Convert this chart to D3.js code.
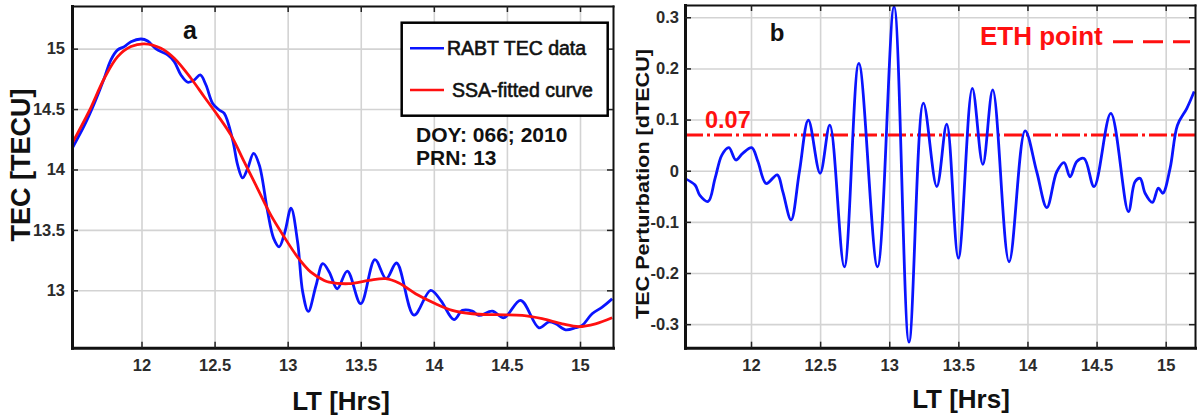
<!DOCTYPE html>
<html><head><meta charset="utf-8">
<script src="https://cdn.jsdelivr.net/npm/d3@7"></script>
<style>
html,body{margin:0;padding:0;background:#fff;}
svg{display:block;font-family:"Liberation Sans",Arial,Helvetica,sans-serif;}
</style></head><body>
<svg id="chart" width="1197" height="420"></svg>
<script>
// Panel a: observed RABT TEC (PRN 13) and its SSA-fitted trend
const ltObs = [11.525, 11.61, 11.677, 11.745, 11.79, 11.837, 11.882, 11.928, 11.997, 12.042, 12.099, 12.179, 12.224, 12.27, 12.316, 12.361, 12.402, 12.441, 12.487, 12.532, 12.566, 12.624, 12.658, 12.692, 12.726, 12.767, 12.806, 12.863, 12.904, 12.942, 12.981, 13.023, 13.068, 13.103, 13.141, 13.194, 13.24, 13.285, 13.339, 13.408, 13.5, 13.597, 13.674, 13.745, 13.864, 13.978, 14.047, 14.138, 14.195, 14.263, 14.308, 14.4, 14.48, 14.594, 14.719, 14.787, 14.833, 14.901, 14.97, 15.015, 15.083, 15.152, 15.22];
const tecObs = [14.174, 14.367, 14.547, 14.755, 14.906, 14.99, 15.017, 15.058, 15.08, 15.064, 14.998, 14.948, 14.893, 14.782, 14.722, 14.741, 14.782, 14.699, 14.547, 14.492, 14.465, 14.243, 14.036, 13.93, 14.008, 14.133, 14.036, 13.65, 13.43, 13.36, 13.483, 13.68, 13.40, 12.985, 12.825, 13.04, 13.22, 13.15, 13.013, 13.159, 12.889, 13.254, 13.096, 13.226, 12.795, 13.0, 12.917, 12.757, 12.834, 12.828, 12.792, 12.828, 12.773, 12.917, 12.69, 12.738, 12.723, 12.673, 12.69, 12.71, 12.806, 12.861, 12.93];
const ltFit = [11.525, 11.64, 11.746, 11.837, 11.928, 12.02, 12.133, 12.224, 12.338, 12.43, 12.52, 12.612, 12.703, 12.794, 12.886, 12.977, 13.068, 13.159, 13.25, 13.283, 13.419, 13.556, 13.67, 13.761, 13.875, 14.012, 14.126, 14.263, 14.423, 14.605, 14.741, 14.878, 14.992, 15.106, 15.22];
const tecFit = [14.215, 14.478, 14.755, 14.934, 15.017, 15.04, 15.003, 14.92, 14.755, 14.6, 14.45, 14.284, 14.063, 13.842, 13.62, 13.44, 13.275, 13.15, 13.082, 13.068, 13.055, 13.082, 13.096, 13.06, 12.972, 12.889, 12.834, 12.806, 12.798, 12.792, 12.765, 12.723, 12.7, 12.723, 12.773];

// Panel b: TEC perturbation (observed minus trend)
const ltPert = [11.52, 11.595, 11.63, 11.69, 11.74, 11.79, 11.84, 11.89, 11.94, 12.005, 12.05, 12.11, 12.19, 12.23, 12.29, 12.35, 12.415, 12.5, 12.57, 12.675, 12.78, 12.915, 13.035, 13.143, 13.247, 13.344, 13.416, 13.50, 13.601, 13.677, 13.749, 13.867, 13.983, 14.067, 14.14, 14.212, 14.265, 14.308, 14.357, 14.41, 14.482, 14.603, 14.73, 14.778, 14.815, 14.851, 14.904, 14.947, 14.979, 15.032, 15.085, 15.153, 15.206];
const dTec = [-0.015, -0.028, -0.048, -0.06, -0.015, 0.031, 0.045, 0.021, 0.034, 0.045, 0.018, -0.025, -0.008, -0.041, -0.096, -0.002, 0.099, -0.005, 0.089, -0.188, 0.21, -0.188, 0.321, -0.335, 0.132, -0.031, 0.091, -0.171, 0.161, 0.0125, 0.158, -0.178, 0.078, -0.002, -0.072, -0.002, 0.016, -0.012, 0.018, 0.024, -0.031, 0.112, -0.08, -0.0215, -0.015, -0.044, -0.062, -0.034, -0.044, 0.005, 0.089, 0.122, 0.155];
const ethThreshold = 0.07;

// Tick values
const hourTicks = [12, 12.5, 13, 13.5, 14, 14.5, 15];
const tecTicks = [13, 13.5, 14, 14.5, 15];
const pertTicks = [-0.3, -0.2, -0.1, 0, 0.1, 0.2, 0.3];

const svg = d3.select("#chart");
svg.append("rect").attr("width", 1197).attr("height", 420).attr("fill", "#fff");

const boxA = {left: 72, top: 6, right: 613, bottom: 347.7};
const boxB = {left: 685, top: 5, right: 1195, bottom: 347.7};

const xA = d3.scaleLinear().domain([11.5245, 15.2258]).range([boxA.left, boxA.right]);
const yA = d3.scaleLinear().domain([12.525, 15.353]).range([boxA.bottom, boxA.top]);
const xB = d3.scaleLinear().domain([11.5225, 15.212]).range([boxB.left, boxB.right]);
const yB = d3.scaleLinear().domain([-0.346, 0.324]).range([boxB.bottom, boxB.top]);

const fmt = d => String(+d.toFixed(2));

function grid(box, x, y, xt, yt) {
  const w = box.right - box.left, h = box.bottom - box.top;
  const g = svg.append("g");
  g.append("g").attr("transform", `translate(0,${box.bottom})`)
    .call(d3.axisBottom(x).tickValues(xt).tickSize(-h).tickFormat(""))
    .call(s => { s.select(".domain").remove(); s.selectAll("line").attr("stroke", "#d3d3d3").attr("stroke-width", 1.6); });
  g.append("g").attr("transform", `translate(${box.left},0)`)
    .call(d3.axisLeft(y).tickValues(yt).tickSize(-w).tickFormat(""))
    .call(s => { s.select(".domain").remove(); s.selectAll("line").attr("stroke", "#d3d3d3").attr("stroke-width", 1.6); });
}

function axes(box, x, y, xt, yt, yPad) {
  const g = svg.append("g");
  const styleAxis = (s, dw) => {
    s.select(".domain").attr("stroke", "#111").attr("stroke-width", dw).attr("stroke-linecap", "square");
    s.selectAll(".tick line").attr("stroke", "#222").attr("stroke-width", 1.5);
    s.selectAll("text").attr("font-size", 16.5).attr("font-weight", "bold").attr("fill", "#2b2b2b")
      .attr("font-family", "'Liberation Sans', Arial, sans-serif");
  };
  g.append("g").attr("transform", `translate(0,${box.top})`)
    .call(d3.axisTop(x).tickValues(xt).tickSize(-6).tickSizeOuter(0).tickFormat(""))
    .call(s => styleAxis(s, 2));
  g.append("g").attr("transform", `translate(${box.right},0)`)
    .call(d3.axisRight(y).tickValues(yt).tickSize(-6).tickSizeOuter(0).tickFormat(""))
    .call(s => styleAxis(s, 2));
  g.append("g").attr("transform", `translate(0,${box.bottom})`)
    .call(d3.axisBottom(x).tickValues(xt).tickSize(-6).tickSizeOuter(0).tickPadding(12).tickFormat(fmt))
    .call(s => styleAxis(s, 3));
  g.append("g").attr("transform", `translate(${box.left},0)`)
    .call(d3.axisLeft(y).tickValues(yt).tickSize(-6).tickSizeOuter(0).tickPadding(yPad).tickFormat(fmt))
    .call(s => styleAxis(s, 3));
}

function clip(id, box) {
  svg.append("clipPath").attr("id", id).append("rect")
    .attr("x", box.left).attr("y", box.top)
    .attr("width", box.right - box.left).attr("height", box.bottom - box.top);
}
clip("clipA", boxA);
clip("clipB", boxB);

// ---------- Panel a ----------
grid(boxA, xA, yA, hourTicks, tecTicks);
const lineA = d3.line().x(d => xA(d[0])).y(d => yA(d[1])).curve(d3.curveCatmullRom.alpha(0.5));
svg.append("path").attr("clip-path", "url(#clipA)")
  .attr("d", lineA(d3.zip(ltObs, tecObs)))
  .attr("fill", "none").attr("stroke", "#0a14ff").attr("stroke-width", 2.8).attr("stroke-linejoin", "round");
svg.append("path").attr("clip-path", "url(#clipA)")
  .attr("d", lineA(d3.zip(ltFit, tecFit)))
  .attr("fill", "none").attr("stroke", "#ff1010").attr("stroke-width", 2.8).attr("stroke-linejoin", "round");
axes(boxA, xA, yA, hourTicks, tecTicks, 7);

// Legend
const leg = svg.append("g");
leg.append("rect").attr("x", 401.7).attr("y", 22.7).attr("width", 206).attr("height", 93)
  .attr("fill", "#fff").attr("stroke", "#000").attr("stroke-width", 2.5);
leg.append("line").attr("x1", 410).attr("x2", 444).attr("y1", 48.3).attr("y2", 48.3)
  .attr("stroke", "#0a14ff").attr("stroke-width", 2.5);
leg.append("line").attr("x1", 410).attr("x2", 444).attr("y1", 90).attr("y2", 90)
  .attr("stroke", "#ff1010").attr("stroke-width", 2.5);
leg.append("text").attr("x", 447).attr("y", 54.5).text("RABT TEC data")
  .attr("font-size", 19.5).attr("fill", "#111").attr("stroke", "#111").attr("stroke-width", 0.6);
leg.append("text").attr("x", 452).attr("y", 96.5).text("SSA-fitted curve")
  .attr("font-size", 19.5).attr("fill", "#111").attr("stroke", "#111").attr("stroke-width", 0.6);

svg.append("text").attr("x", 416).attr("y", 141.7).text("DOY: 066; 2010")
  .attr("font-size", 21).attr("font-weight", "bold").attr("fill", "#111");
svg.append("text").attr("x", 416).attr("y", 165).text("PRN: 13")
  .attr("font-size", 21).attr("font-weight", "bold").attr("fill", "#111");

svg.append("text").attr("x", 190).attr("y", 39).attr("text-anchor", "middle").text("a")
  .attr("font-size", 25).attr("font-weight", "bold").attr("fill", "#111");

svg.append("text").attr("transform", "translate(30,165) rotate(-90)").attr("text-anchor", "middle")
  .text("TEC [TECU]").attr("font-size", 27).attr("font-weight", "bold").attr("fill", "#111");
svg.append("text").attr("x", 341).attr("y", 410).attr("text-anchor", "middle")
  .text("LT [Hrs]").attr("font-size", 26).attr("font-weight", "bold").attr("fill", "#111");

// ---------- Panel b ----------
grid(boxB, xB, yB, hourTicks, pertTicks);
svg.append("line").attr("clip-path", "url(#clipB)")
  .attr("x1", boxB.left).attr("x2", boxB.right)
  .attr("y1", yB(ethThreshold)).attr("y2", yB(ethThreshold))
  .attr("stroke", "#ff1010").attr("stroke-width", 3).attr("stroke-dasharray", "18,4,3,4");
const lineB = d3.line().x(d => xB(d[0])).y(d => yB(d[1])).curve(d3.curveCatmullRom.alpha(0.5));
svg.append("path").attr("clip-path", "url(#clipB)")
  .attr("d", lineB(d3.zip(ltPert, dTec)))
  .attr("fill", "none").attr("stroke", "#0a14ff").attr("stroke-width", 2.8).attr("stroke-linejoin", "round");
axes(boxB, xB, yB, hourTicks, pertTicks, 6);

svg.append("text").attr("x", 705).attr("y", yB(ethThreshold) - 7).text(fmt(ethThreshold))
  .attr("font-size", 23.5).attr("font-weight", "bold").attr("fill", "#ff1010");
svg.append("text").attr("x", 980).attr("y", 45).text("ETH point")
  .attr("font-size", 26).attr("font-weight", "bold").attr("fill", "#ff1010");
svg.append("line").attr("x1", 1113).attr("x2", 1190).attr("y1", 41.7).attr("y2", 41.7)
  .attr("stroke", "#ff1010").attr("stroke-width", 3).attr("stroke-dasharray", "20,10");

svg.append("text").attr("x", 777).attr("y", 41).attr("text-anchor", "middle").text("b")
  .attr("font-size", 24).attr("font-weight", "bold").attr("fill", "#111");

svg.append("text").attr("transform", "translate(649,184) rotate(-90)").attr("text-anchor", "middle")
  .text("TEC Perturbation [dTECU]").attr("font-size", 19).attr("font-weight", "bold").attr("fill", "#111")
  .attr("textLength", 270).attr("lengthAdjust", "spacingAndGlyphs");
svg.append("text").attr("x", 961).attr("y", 408).attr("text-anchor", "middle")
  .text("LT [Hrs]").attr("font-size", 26).attr("font-weight", "bold").attr("fill", "#111");
</script>
</body></html>
